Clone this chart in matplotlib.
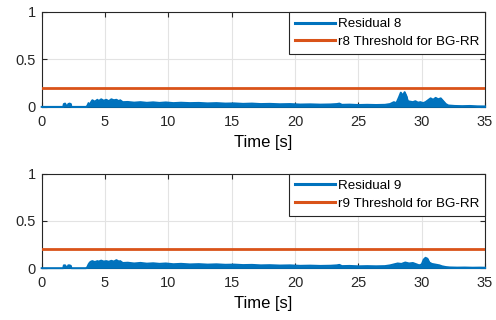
import matplotlib.pyplot as plt

# residual envelopes (time [s], value)
r8_t = [0, 1.7, 1.75, 1.85, 1.95, 2.05, 2.1, 2.2, 2.3, 2.35, 3.5, 3.6, 3.7, 3.8, 3.9,
        4.0, 4.2, 4.4, 4.5, 4.7, 4.9, 5.1, 5.3, 5.5, 5.7, 5.9, 6.1, 6.2, 6.4,
        6.8, 7.3, 7.8, 8.3, 8.8, 9.3, 9.8, 10.4, 11.0, 11.7, 12.4, 13.1, 13.8,
        14.5, 15.2, 15.9, 16.6, 17.3, 18.0, 18.8, 19.6, 20.4, 21.2, 22.0, 22.8,
        23.3, 23.5, 23.7, 24.3, 25.0, 25.7, 26.4, 27.1, 27.5, 27.8, 28.0, 28.2,
        28.35, 28.5, 28.65, 28.8, 28.9, 29.1, 29.3, 29.5, 29.7, 29.9, 30.1, 30.3,
        30.5, 30.7, 30.9, 31.1, 31.3, 31.5, 31.7, 31.9, 32.1, 32.6, 33.2, 33.8,
        34.4, 35]
r8_v = [0, 0, 0.03, 0.035, 0.01, 0.01, 0.03, 0.035, 0.03, 0, 0, 0.01, 0.04, 0.02, 0.05,
        0.07, 0.055, 0.075, 0.06, 0.08, 0.065, 0.075, 0.06, 0.08, 0.07, 0.075, 0.06, 0.07, 0.05,
        0.052, 0.045, 0.05, 0.043, 0.048, 0.042, 0.047, 0.04, 0.044, 0.04, 0.042, 0.037, 0.04,
        0.035, 0.037, 0.032, 0.035, 0.03, 0.032, 0.028, 0.03, 0.025, 0.027, 0.024, 0.026,
        0.03, 0.035, 0.022, 0.024, 0.02, 0.022, 0.02, 0.022, 0.03, 0.05, 0.04, 0.1,
        0.15, 0.12, 0.155, 0.11, 0.06, 0.055, 0.05, 0.06, 0.045, 0.05, 0.04, 0.05,
        0.07, 0.09, 0.075, 0.095, 0.08, 0.09, 0.06, 0.03, 0.015, 0.01, 0.008, 0.01,
        0.006, 0.005]

r9_t = [0, 1.7, 1.75, 1.85, 1.95, 2.05, 2.1, 2.2, 2.3, 2.35, 3.5, 3.6, 3.7, 3.8, 3.9,
        4.0, 4.2, 4.4, 4.5, 4.7, 4.9, 5.1, 5.3, 5.5, 5.7, 5.9, 6.1, 6.2, 6.4,
        6.8, 7.3, 7.8, 8.3, 8.8, 9.3, 9.8, 10.4, 11.0, 11.7, 12.4, 13.1, 13.8,
        14.5, 15.2, 15.9, 16.6, 17.3, 18.0, 18.8, 19.6, 20.4, 21.2, 22.0, 22.8,
        23.3, 23.5, 23.7, 24.3, 25.0, 25.7, 26.4, 27.1, 27.5, 27.8, 28.1, 28.4,
        28.7, 29.0, 29.3, 29.6, 29.8, 30.0, 30.15, 30.3, 30.45, 30.6, 30.8, 31.0,
        31.2, 31.4, 31.6, 31.9, 32.2, 32.8, 33.4, 34.0, 34.6, 35]
r9_v = [0, 0, 0.03, 0.03, 0.01, 0.01, 0.03, 0.03, 0.025, 0, 0, 0.01, 0.04, 0.06, 0.07,
        0.075, 0.065, 0.075, 0.07, 0.08, 0.07, 0.075, 0.068, 0.078, 0.07, 0.085, 0.07, 0.075, 0.055,
        0.058, 0.05, 0.056, 0.048, 0.052, 0.046, 0.05, 0.042, 0.046, 0.04, 0.043, 0.038, 0.041,
        0.036, 0.038, 0.033, 0.035, 0.03, 0.032, 0.028, 0.03, 0.025, 0.027, 0.024, 0.026,
        0.03, 0.035, 0.022, 0.024, 0.02, 0.022, 0.02, 0.022, 0.03, 0.04, 0.05, 0.045,
        0.06, 0.05, 0.055, 0.04, 0.03, 0.04, 0.09, 0.11, 0.1, 0.06, 0.045, 0.04,
        0.035, 0.03, 0.02, 0.012, 0.008, 0.006, 0.007, 0.005, 0.006, 0.005]

thr = 0.2
panels = [
    (r8_t, r8_v, "Residual 8", "r8 Threshold for BG-RR"),
    (r9_t, r9_v, "Residual 9", "r9 Threshold for BG-RR"),
]

blue = "#0072BD"
orange = "#D95319"

plt.rcParams["font.family"] = ["Liberation Sans", "DejaVu Sans"]

fig = plt.figure(figsize=(4.96, 3.2), dpi=100)
positions = [[0.084, 0.666, 0.894, 0.297], [0.084, 0.162, 0.894, 0.295]]

for pos, (t, v, lab, thr_lab) in zip(positions, panels):
    ax = fig.add_axes(pos)
    ax.fill_between(t, 0, v, color=blue, lw=0.5, clip_on=False, zorder=3)
    ax.plot(t, v, color=blue, lw=1.4, label=lab, clip_on=False, zorder=3)
    ax.plot([0, 35], [thr, thr], color=orange, lw=2.0, label=thr_lab, zorder=3)

    ax.set_xlim(0, 35)
    ax.set_ylim(0, 1)
    ax.set_xticks(range(0, 36, 5))
    ax.set_yticks([0, 0.5, 1])
    ax.set_yticklabels(["0", "0.5", "1"])
    ax.tick_params(direction="in", top=True, right=True, length=3.5, width=0.8,
                   labelsize=10.5, colors="#262626", labelcolor="#262626")
    ax.tick_params(axis="x", pad=6)
    ax.tick_params(axis="y", pad=4)
    ax.grid(True, color="#E3E3E3", lw=0.8)
    ax.set_axisbelow(True)
    for s in ax.spines.values():
        s.set_color("#262626")
        s.set_linewidth(0.8)
    ax.set_xlabel("Time [s]", fontsize=12, labelpad=4, color="black")

    leg = ax.legend(loc="upper right", borderaxespad=0, fancybox=False,
                    edgecolor="#262626", framealpha=1, fontsize=9.6,
                    handlelength=3.0, borderpad=0.45, labelspacing=0.4,
                    handletextpad=0.2)
    leg.get_frame().set_linewidth(0.8)
    for ln in leg.get_lines():
        ln.set_linewidth(2.2)

fig.savefig("out.png", dpi=100)
